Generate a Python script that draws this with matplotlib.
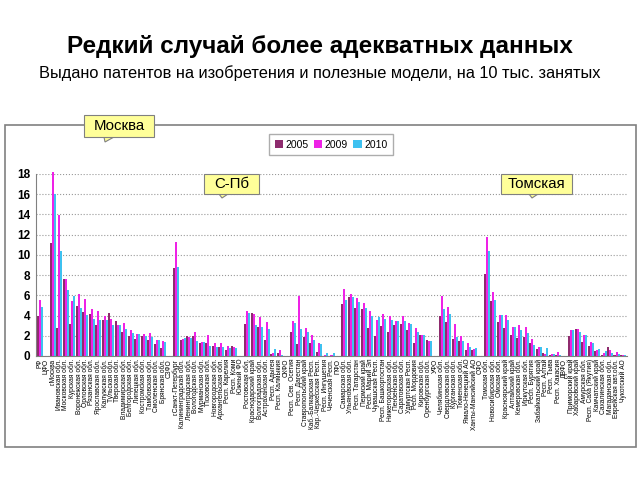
import numpy as np
import matplotlib.pyplot as plt
from matplotlib.patches import Rectangle, Polygon

plt.rcParams['font.family'] = ['Liberation Sans', 'DejaVu Sans']

# regions (federal districts have no bars)
regions = ['РФ', 'ЦФО', 'г.Москва', 'Ивановская обл.', 'Московская обл.', 'Курская обл.',
           'Воронежская обл.', 'Орловская обл.', 'Рязанская обл.', 'Ярославская обл.',
           'Калужская обл.', 'Тульская обл.', 'Тверская обл.', 'Владимирская обл.',
           'Белгородская обл.', 'Липецкая обл.', 'Костромская обл.', 'Тамбовская обл.',
           'Смоленская обл.', 'Брянская обл.', 'СЗФО', 'г.Санкт-Петербург',
           'Калининградская обл.', 'Ленинградская обл.', 'Вологодская обл.', 'Мурманская обл.',
           'Псковская обл.', 'Новгородская обл.', 'Архангельская обл.', 'Респ. Карелия',
           'Респ. Коми', 'Южный ФО', 'Ростовская обл.', 'Краснодарский край',
           'Волгоградская обл.', 'Астраханская обл.', 'Респ. Адыгея', 'Респ. Калмыкия', 'СКФО',
           'Респ. Сев. Осетия', 'Респ. Дагестан', 'Ставропольский край', 'Каб.-Балкарская Респ.',
           'Кар.-Черкесская Респ.', 'Респ. Ингушетия', 'Чеченская Респ.', 'ПФО',
           'Самарская обл.', 'Ульяновская обл.', 'Респ. Татарстан', 'Пермский край',
           'Респ. Марий Эл', 'Чувашская Респ.', 'Респ. Башкортостан', 'Нижегородская обл.',
           'Пензенская обл.', 'Саратовская обл.', 'Удмуртская Респ.', 'Респ. Мордовия',
           'Кировская обл.', 'Оренбургская обл.', 'УФО', 'Челябинская обл.',
           'Свердловская обл.', 'Курганская обл.', 'Тюменская обл.', 'Ямало-Ненецкий АО',
           'Ханты-Мансийский АО', 'СФО', 'Томская обл.', 'Новосибирская обл.', 'Омская обл.',
           'Красноярский край', 'Алтайский край', 'Кемеровская обл.', 'Иркутская обл.',
           'Респ. Бурятия', 'Забайкальский край', 'Респ. Алтай', 'Респ. Тыва', 'Респ. Хакасия',
           'ДВФО', 'Приморский край', 'Хабаровский край', 'Амурская обл.', 'Респ. Саха (Якутия)',
           'Камчатский край', 'Сахалинская обл.', 'Магаданская обл.', 'Еврейская авт.обл.',
           'Чукотский АО']

v2005 = [4.0, 0, 11.2, 2.8, 7.6, 3.2, 4.9, 4.4, 4.2, 3.1, 3.6, 4.3, 3.5, 2.4, 2.0, 1.7, 2.0,
         1.6, 1.2, 0.8,
         0, 8.7, 1.6, 2.0, 2.0, 1.25, 1.3, 1.0, 0.9, 0.6, 1.0,
         0, 3.2, 4.3, 2.9, 1.6, 0.15, 0.25,
         0, 2.4, 1.2, 1.9, 1.3, 0.4, 0.0, 0.0,
         0, 5.1, 5.8, 4.7, 4.6, 2.8, 2.0, 3.0, 2.4, 3.1, 3.2, 2.6, 1.3, 2.1, 1.6,
         0, 4.0, 3.4, 1.7, 1.5, 0.6, 0.6,
         0, 8.1, 5.4, 3.4, 2.8, 2.1, 1.75, 1.9, 1.25, 0.7, 0.33, 0.1, 0.1,
         0, 2.0, 2.7, 1.4, 1.0, 0.5, 0.1, 0.9, 0.1, 0.05]
v2009 = [5.5, 0, 18.2, 13.9, 7.6, 5.4, 6.1, 5.6, 4.6, 4.5, 4.0, 3.7, 3.1, 3.3, 2.6, 2.2, 2.2,
         2.3, 1.6, 1.5,
         0, 11.3, 1.7, 1.9, 2.4, 1.4, 2.1, 1.25, 1.25, 1.0, 0.9,
         0, 4.5, 4.2, 3.9, 3.4, 0.3, 0.6,
         0, 3.5, 5.9, 2.8, 2.1, 1.25, 0.05, 0.05,
         0, 6.6, 6.1, 5.7, 5.2, 4.5, 3.6, 4.15, 4.0, 3.45, 4.0, 3.3, 2.8, 2.1, 1.5,
         0, 5.9, 4.8, 3.2, 2.0, 1.3, 0.7,
         0, 11.8, 6.3, 4.1, 4.1, 2.9, 3.05, 2.9, 1.65, 0.9, 0.2, 0.2, 0.4,
         0, 2.6, 2.7, 2.1, 1.4, 0.6, 0.33, 0.6, 0.4, 0.1]
v2010 = [4.8, 0, 16.0, 10.4, 6.5, 5.9, 4.7, 4.1, 3.7, 3.6, 3.6, 3.1, 3.1, 2.7, 2.3, 2.2, 2.0,
         1.9, 1.6, 1.4,
         0, 8.8, 1.75, 1.8, 1.5, 1.4, 1.0, 0.9, 0.85, 0.8, 0.8,
         0, 4.3, 3.1, 2.9, 2.7, 0.65, 0.1,
         0, 3.3, 2.7, 2.4, 1.6, 1.2, 0.33, 0.33,
         0, 5.5, 5.8, 5.3, 4.7, 4.0, 3.9, 3.7, 3.6, 3.45, 3.45, 3.2, 2.4, 2.1, 1.5,
         0, 4.6, 4.2, 1.9, 1.5, 0.9, 0.75,
         0, 10.4, 5.5, 4.1, 3.6, 2.9, 2.6, 2.3, 1.1, 0.9, 0.8, 0.2, 0.1,
         0, 2.6, 2.4, 2.1, 1.25, 0.7, 0.5, 0.25, 0.2, 0.05]

years = ['2005', '2009', '2010']
colors = ['#8E2B6E', '#EE22E6', '#3EC1F0']

W, H = 640.0, 480.0
def fx(px):
    return px / W
def fy(py):
    return 1 - py / H

fig = plt.figure(figsize=(6.4, 4.8), dpi=100)

fig.text(0.5, fy(47), 'Редкий случай более адекватных данных', ha='center', va='center',
         fontsize=17.5, fontweight='bold')
fig.text(0.5, fy(73), 'Выдано патентов на изобретения и полезные модели, на 10 тыс. занятых',
         ha='center', va='center', fontsize=11.8)

# outer frame
fig.patches.append(Rectangle((fx(5), fy(447)), fx(631), 322 / H, transform=fig.transFigure,
                             fill=False, edgecolor='#808080', linewidth=1.2))

ax = fig.add_axes([fx(36), fy(356), (627 - 36) / W, (356 - 174) / H])
x = np.arange(len(regions))
w = 0.31
bars = []
for i, (vals, c) in enumerate(zip([v2005, v2009, v2010], colors)):
    b = ax.bar(x + (i - 1) * w, vals, w, color=c, linewidth=0, clip_on=False, label=years[i])
    bars.append(b)

ax.set_xlim(-0.62, len(regions) - 1 + 0.62)
ax.set_ylim(0, 18)
ax.set_yticks(range(0, 19, 2))
ax.set_yticklabels([str(v) for v in range(0, 19, 2)], fontsize=8.5, fontweight='bold')
ax.set_xticks(x)
ax.set_xticklabels(regions, rotation=90, fontsize=4.8, va='top')
ax.tick_params(axis='x', length=0, pad=2)
ax.tick_params(axis='y', length=0, pad=4)
ax.yaxis.grid(True, linestyle=':', color='#999999', linewidth=0.8)
ax.set_axisbelow(True)
for s in ['top', 'right']:
    ax.spines[s].set_visible(False)
ax.spines['left'].set_color('#808080')
ax.spines['bottom'].set_color('#808080')

fig.legend(handles=bars, labels=years, loc='center', bbox_to_anchor=(fx(331), fy(144.5)),
           ncol=3, fontsize=7.5, frameon=True, fancybox=False, edgecolor='#999999',
           handlelength=0.8, handleheight=0.8, handletextpad=0.25, columnspacing=0.5,
           borderpad=0.5)

# yellow callouts
callouts = [('Москва', 84, 115, 154, 137, [(104, 137), (114, 137), (105, 142)]),
            ('С-Пб', 204, 174, 259, 194, [(219, 194), (228, 194), (222, 198)]),
            ('Томская', 501, 174, 572, 194, [(529, 194), (538, 194), (532, 198)])]
for txt, x0, y0, x1, y1, tail in callouts:
    fig.patches.append(Polygon([(fx(a), fy(b)) for a, b in tail], closed=True,
                               transform=fig.transFigure, facecolor='#FFFF99',
                               edgecolor='#808080', linewidth=0.8, zorder=5))
    fig.patches.append(Rectangle((fx(x0), fy(y1)), (x1 - x0) / W, (y1 - y0) / H,
                                 transform=fig.transFigure, facecolor='#FFFF99',
                                 edgecolor='#808080', linewidth=0.8, zorder=6))
    fig.text(fx((x0 + x1) / 2), fy((y0 + y1) / 2), txt, ha='center', va='center',
             fontsize=10.8, zorder=7)

fig.savefig('out.png', dpi=100)
